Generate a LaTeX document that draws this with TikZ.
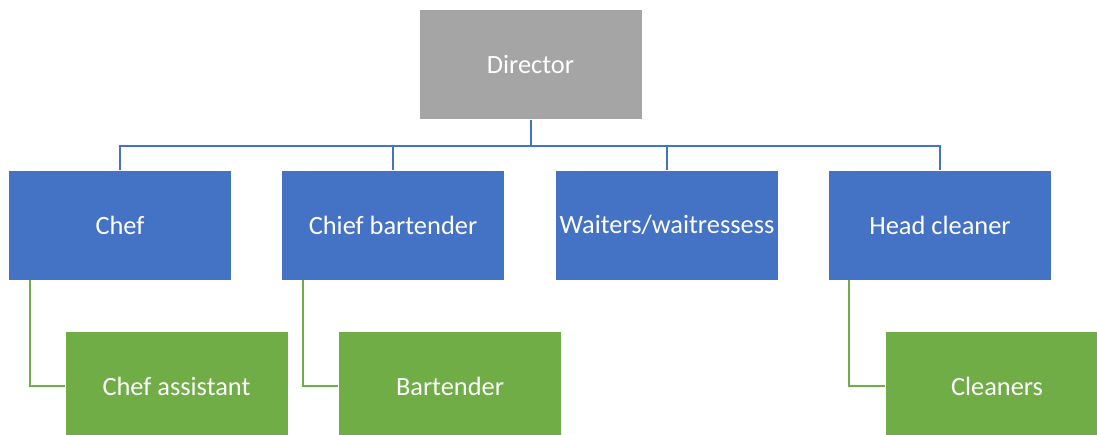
\documentclass[tikz,border=0pt]{standalone}
\usepackage{fontspec}
\setmainfont{Carlito}
\definecolor{boxgray}{HTML}{A5A5A5}
\definecolor{boxblue}{HTML}{4472C4}
\definecolor{boxgreen}{HTML}{70AD47}
\begin{document}
\begin{tikzpicture}[x=1pt,y=-1pt,
  box/.style={draw=white, line width=0.8pt, minimum width=223pt, minimum height=110pt,
    inner sep=0pt, text=white, font=\fontsize{26.4}{30}\selectfont},
  topbox/.style={box, fill=boxgray},
  midbox/.style={box, fill=boxblue},
  lowbox/.style={box, fill=boxgreen},
  bluelink/.style={draw=boxblue, line width=2pt},
  greenlink/.style={draw=boxgreen, line width=2pt}]
\useasboundingbox (0,0) rectangle (1097,435);
\clip (0,0) rectangle (1097,435);

% top level
\node[topbox] (dir) at (530.5,64.5) {Director};

% second level
\node[midbox] (chef) at (120,225) {Chef};
\node[midbox] (bart) at (393,225) {Chief bartender};
\node[midbox] (wait) at (667,225) {Waiters/waitressess};
\node[midbox] (clean) at (940,225) {Head cleaner};

% third level
\node[lowbox] (asst) at (176.5,386) {Chef assistant};
\node[lowbox] (bt) at (450,386) {Bartender};
\node[lowbox] (cl) at (997,386) {Cleaners};

% director to second level
\coordinate (bus) at (530.5,146);
\draw[bluelink] (dir.south) -- (bus);
\draw[bluelink] (bus) -| (chef.north);
\draw[bluelink] (bus) -| (bart.north);
\draw[bluelink] (bus) -| (wait.north);
\draw[bluelink] (bus) -| (clean.north);

% second level to third level
\draw[greenlink] ([xshift=22pt]chef.south west) |- (asst.west);
\draw[greenlink] ([xshift=22pt]bart.south west) |- (bt.west);
\draw[greenlink] ([xshift=21pt]clean.south west) |- (cl.west);
\end{tikzpicture}
\end{document}
